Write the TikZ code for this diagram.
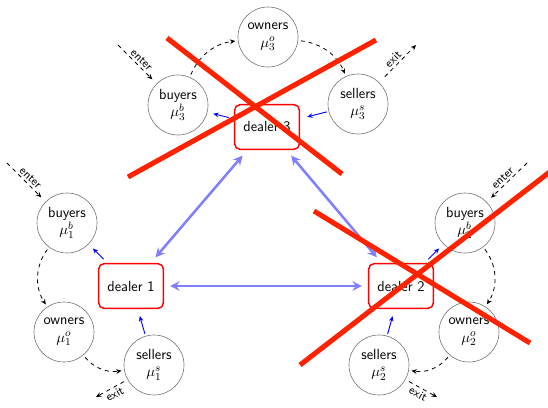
\documentclass[tikz,border=0pt]{standalone}
\usetikzlibrary{arrows.meta}
\definecolor{crossred}{RGB}{255,34,0}
\definecolor{linkblue}{RGB}{128,128,255}

\begin{document}
\begin{tikzpicture}[x=0.75pt,y=-0.75pt,
  font=\sffamily\fontsize{11}{12}\selectfont,
  agent/.style={circle, draw=black!55, line width=0.45pt, minimum size=45pt,
    inner sep=0pt, align=center},
  dealer/.style={draw=red, line width=1.1pt, rounded corners=4pt, fill=white,
    minimum width=48.5pt, minimum height=33.5pt, inner sep=2pt},
  link/.style={linkblue, line width=1.9pt,
    {Stealth[length=7pt,width=7pt]}-{Stealth[length=7pt,width=7pt]}},
  quote/.style={blue, line width=0.7pt, -{Stealth[length=4pt,width=3.5pt]}},
  flow/.style={dashed, line width=0.6pt, -{Stealth[length=4pt,width=3.5pt]}},
  tag/.style={font=\sffamily\fontsize{9}{10}\selectfont, inner sep=1.5pt},
  cross/.style={crossred, line width=3.8pt}]

\clip (0,0) rectangle (548,407);

% dealers
\node[dealer] (d1) at (131,286) {dealer 1};
\node[dealer] (d2) at (401,286) {dealer 2};
\node[dealer] (d3) at (267,127) {dealer 3};

% agents around each dealer
\node[agent] (b1) at (67,223)  {buyers\\[1pt]$\mu^b_1$};
\node[agent] (o1) at (64,332)  {owners\\[1pt]$\mu^o_1$};
\node[agent] (s1) at (154,365) {sellers\\[1pt]$\mu^s_1$};

\node[agent] (b2) at (465,223) {buyers\\[1pt]$\mu^b_2$};
\node[agent] (o2) at (469,332) {owners\\[1pt]$\mu^o_2$};
\node[agent] (s2) at (379,365) {sellers\\[1pt]$\mu^s_2$};

\node[agent] (b3) at (178,105) {buyers\\[1pt]$\mu^b_3$};
\node[agent] (o3) at (268,37)  {owners\\[1pt]$\mu^o_3$};
\node[agent] (s3) at (358,104) {sellers\\[1pt]$\mu^s_3$};

% free ends of entry and exit flows
\coordinate (in1)  at (7,163);
\coordinate (out1) at (96,397);
\coordinate (in2)  at (527,163);
\coordinate (out2) at (437,397);
\coordinate (in3)  at (118,45);
\coordinate (out3) at (416,45);

% inter-dealer links
\draw[link, shorten <=4.5pt, shorten >=4.5pt] (d1) -- (d2);
\draw[link, shorten <=5.5pt, shorten >=5.5pt] (d1) -- (d3);
\draw[link, shorten <=5.5pt, shorten >=5.5pt] (d2) -- (d3);

% dealer quotes
\foreach \i in {1,2,3}{
  \draw[quote, shorten <=4pt, shorten >=4.5pt] (d\i) -- (b\i);
  \draw[quote, shorten <=1.5pt, shorten >=5.5pt] (s\i) -- (d\i);
}

% agent flows
\draw[flow, shorten >=4.5pt] (in1) -- node[tag, sloped, above] {enter} (b1);
\draw[flow, shorten <=2pt, shorten >=2pt] (b1) to[bend right=35] (o1);
\draw[flow, shorten <=2pt, shorten >=2pt] (o1) to[bend right=30] (s1);
\draw[flow, shorten <=3pt] (s1) -- node[tag, sloped, below] {exit} (out1);

\draw[flow, shorten >=4.5pt] (in2) -- node[tag, sloped, above] {enter} (b2);
\draw[flow, shorten <=2pt, shorten >=2pt] (b2) to[bend left=35] (o2);
\draw[flow, shorten <=2pt, shorten >=2pt] (o2) to[bend left=30] (s2);
\draw[flow, shorten <=3pt] (s2) -- node[tag, sloped, below] {exit} (out2);

\draw[flow, shorten >=4.5pt] (in3) -- node[tag, sloped, above] {enter} (b3);
\draw[flow, shorten <=2pt, shorten >=2pt] (b3) to[bend left=30] (o3);
\draw[flow, shorten <=2pt, shorten >=2pt] (o3) to[bend left=30] (s3);
\draw[flow, shorten <=6pt] (s3) -- node[tag, sloped, above] {exit} (out3);

% crossed-out dealers
\draw[cross] (167,38) -- (342,174);
\draw[cross] (128,177) -- (376,40);
\draw[cross] (314,211) -- (530,343);
\draw[cross] (300,365) -- (560,164);
\end{tikzpicture}
\end{document}
